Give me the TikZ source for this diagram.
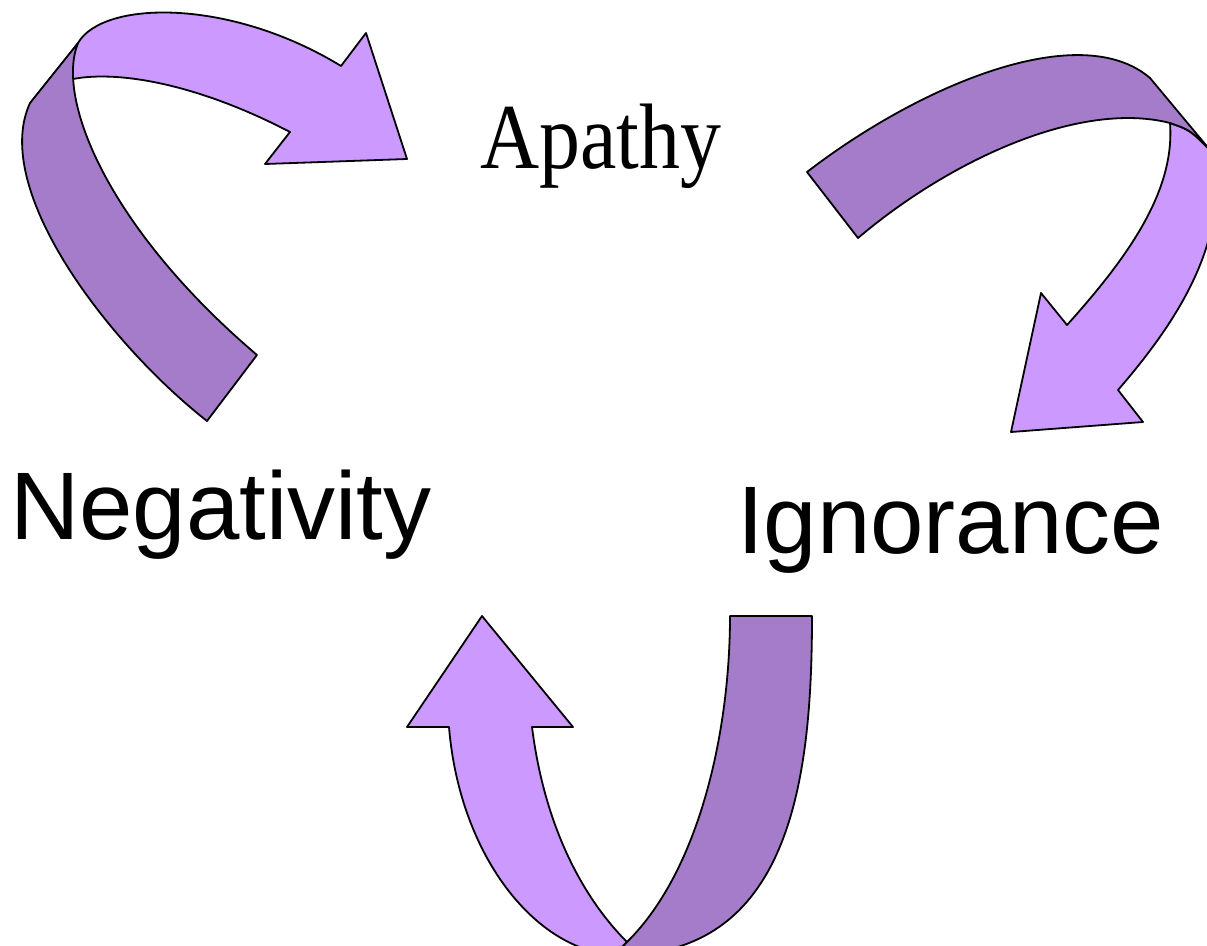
\documentclass[tikz,border=0pt]{standalone}
\usepackage{fontspec}
\usepackage{graphicx}
\newfontfamily\labelsans{Liberation Sans}
\newfontfamily\labelserif{Liberation Serif}
\definecolor{ribbonlight}{RGB}{204,153,255}
\definecolor{ribbondark}{RGB}{164,124,202}
\begin{document}
\begin{tikzpicture}[x=1pt,y=-1pt,
  band/.style={draw=black,line width=1.8pt,line join=round},
  lightband/.style={band,fill=ribbonlight},
  darkband/.style={band,fill=ribbondark},
  word/.style={anchor=base west,inner sep=0pt,outer sep=0pt}]
\useasboundingbox (0,0) rectangle (1207,945);
\clip (0,0) rectangle (1207,945);

% upper left ribbon: Negativity -> Apathy
\draw[lightband] (78,43) .. controls (103,0) and (230,-2) .. (341,66)
  -- (366,33) -- (407,159) -- (265,164) -- (290,132)
  .. controls (200,85) and (120,70) .. (73,79) -- (70,60) -- cycle;
\draw[darkband] (257,355) -- (207,421)
  .. controls (110,345) and (-10,190) .. (30,103) -- (78,43)
  .. controls (55,100) and (110,230) .. (257,355) -- cycle;

% upper right ribbon: Apathy -> Ignorance
\draw[lightband] (1170,123) .. controls (1190,130) .. (1210,150)
  .. controls (1235,240) and (1170,330) .. (1118,390)
  -- (1143,422) -- (1011,432) -- (1041,293) -- (1067,325)
  .. controls (1130,255) and (1175,190) .. (1170,123) -- cycle;
\draw[darkband] (807,172) .. controls (920,85) and (1080,18) .. (1150,78)
  -- (1210,150) .. controls (1190,130) .. (1170,123)
  .. controls (1080,100) and (950,160) .. (858,238) -- cycle;

% lower ribbon: Ignorance -> Negativity
\draw[lightband] (482,616) -- (573,727) -- (532,727)
  .. controls (545,830) and (585,900) .. (627,942) -- (620,955)
  .. controls (540,955) and (460,860) .. (449,727) -- (407,727) -- cycle;
\draw[darkband] (730,616) -- (812,616)
  .. controls (812,780) and (790,955) .. (620,955) -- (614,955) -- (627,942)
  .. controls (700,870) and (730,730) .. (730,616) -- cycle;

% labels
\node[word] (apathy) at (480,168)
  {\scalebox{0.88}[1]{\labelserif\fontsize{93}{100}\selectfont Apathy}};
\node[word] (negativity) at (10,539)
  {\labelsans\fontsize{96}{110}\selectfont Negativity};
\node[word] (ignorance) at (737,553)
  {\labelsans\fontsize{96}{110}\selectfont Ignorance};
\end{tikzpicture}
\end{document}
